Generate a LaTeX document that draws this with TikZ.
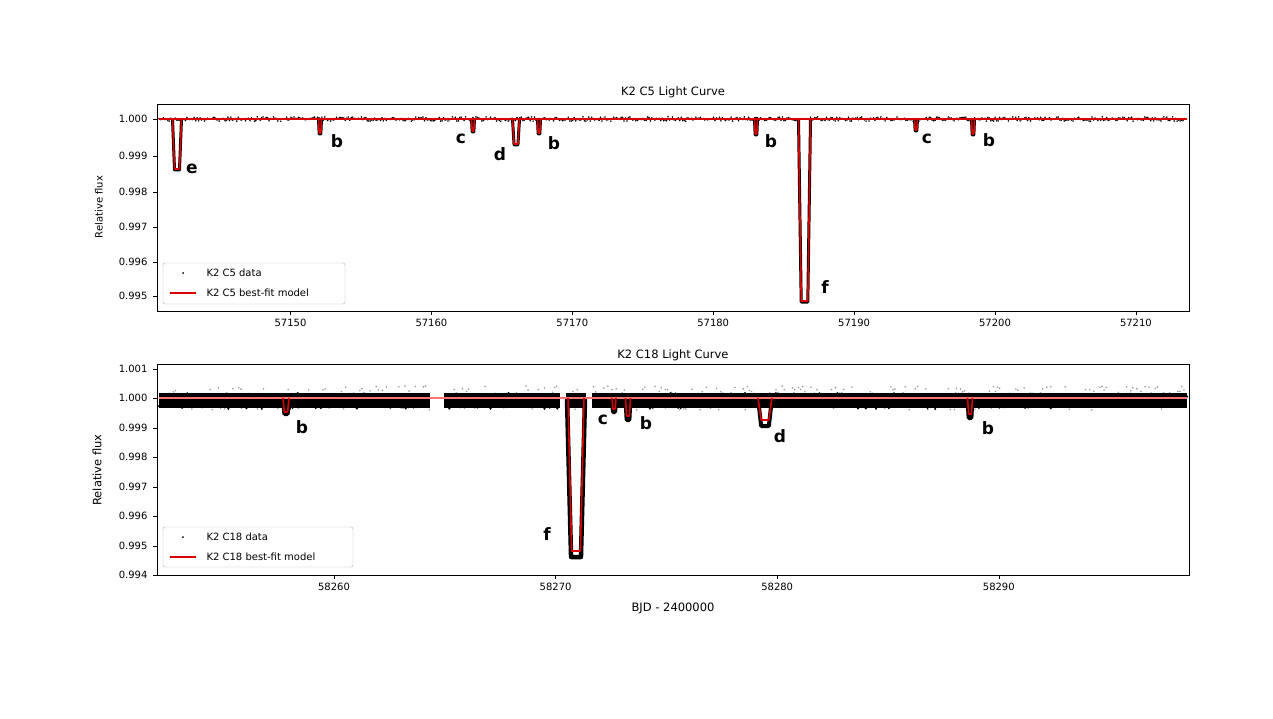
\documentclass[tikz,border=0pt]{standalone}
\usepackage{fontspec}
\setmainfont{DejaVu Sans}
\begin{document}
\begin{tikzpicture}[x=1pt,y=-1pt,
  model/.style={red!85!black,line width=1.6pt,line join=round},
  modelb/.style={red!55!white,line width=1.6pt,line join=round},
  dat/.style={black,line width=3pt,line join=round},
  tick/.style={font=\fontsize{10}{12}\selectfont},
  lab/.style={font=\fontsize{17}{20}\selectfont\bfseries},
  ttl/.style={font=\fontsize{11.5}{14}\selectfont}]
\useasboundingbox (0,0) rectangle (1273,719);
\fill[white] (0,0) rectangle (1273,719);
\newcommand\dipT[4]{\draw[#4] ({#1-#2},119) -- ({#1-#2*0.55},{#3}) -- ({#1+#2*0.55},{#3}) -- ({#1+#2},119);}
\newcommand\dipB[4]{\draw[#4] ({#1-#2},398) -- ({#1-#2*0.55},{#3}) -- ({#1+#2*0.55},{#3}) -- ({#1+#2},398);}
% ---------- top panel ----------
\pgfmathsetseed{7}
\foreach \i in {0,...,700}{\pgfmathsetmacro\xx{159+\i*1.467}\pgfmathsetmacro\yy{119+rand*2.2}\fill (\xx,\yy) circle (0.9);}
\draw[black,line width=2pt] (159,119) -- (1187,119);
\fill[white] (799,116) rectangle (810,123);
\foreach \x/\w/\d in {177/4.5/170,320/1.5/134,473/1.5/132,516/3.5/145,539/1.5/134,756/1.5/135,916/1.5/131,973/1.5/135}{\dipT{\x}{\w}{\d}{dat}}
\dipT{804.5}{6}{302}{dat}
\draw[model] (159,119) -- (1187,119);
\foreach \x/\w/\d in {177/4.5/169,320/1.5/133,473/1.5/131,516/3.5/144,539/1.5/133,756/1.5/134,916/1.5/130,973/1.5/134}{\dipT{\x}{\w}{\d}{model}}
\dipT{804.5}{6}{301}{model}
\draw[line width=0.7pt] (157,104) rectangle (1189,311);
\foreach \v/\y in {1.000/119,0.999/156,0.998/192,0.997/227,0.996/262,0.995/296}{\draw (157,\y) -- (153,\y); \node[tick,anchor=east] at (151,\y) {\v};}
\foreach \i in {0,...,6}{\pgfmathsetmacro\xx{290.5+\i*140.9}\pgfmathtruncatemacro\lbl{5715+\i}\draw (\xx,311) -- (\xx,315); \node[tick,anchor=north] at (\xx,316) {\lbl0};}
\node[ttl] (t1) at (673,92) {K2 C5 Light Curve};
\node[tick,rotate=90] (y1) at (99,207) {Relative flux};
\foreach \t/\x/\y in {e/192/169,b/337/141,c/461/139,d/500/154,b/554/143,b/771/141,f/825/287,c/927/139,b/989/140}{\node[lab] at (\x,\y) {\t};}
\draw[gray!60,rounded corners=2pt] (163,263) rectangle (345,304);
\fill (183,273) circle (1);
\draw[model] (170,293) -- (196,293);
\node[tick,anchor=west] (l1) at (203,273) {K2 C5 data};
\node[tick,anchor=west] (l2) at (203,293) {K2 C5 best-fit model};
% ---------- bottom panel ----------
\pgfmathsetseed{11}
\foreach \i in {0,...,500}{\pgfmathsetmacro\xx{159+\i*2.05}\pgfmathsetmacro\yy{398+rand*12}\fill[black!40] (\xx,\yy) circle (0.9);}
\fill[black] (159,393) rectangle (1187,408);
\foreach \i in {0,...,400}{\pgfmathsetmacro\xx{159+\i*2.57}\pgfmathsetmacro\yy{401+rand*8}\fill (\xx,\yy) circle (1.2);}
\fill[white] (430,385) rectangle (444,415);
\fill[white] (560,385) rectangle (566,415);\fill[white] (586,385) rectangle (592,415);
\foreach \x/\w/\d in {286/3/414,614/2/412,628/2.5/420,765/7/426,970/2.5/418}{\dipB{\x}{\w}{\d}{dat,line width=4pt}}
\dipB{576}{9}{557}{dat,line width=4.5pt}
\draw[modelb] (159,398) -- (1187,398);
\foreach \x/\w/\d in {286/3/412,614/2/409,628/2.5/416,765/7/420,970/2.5/414}{\dipB{\x}{\w}{\d}{model}}
\dipB{576}{8}{551}{model}
\draw[line width=0.7pt] (157,364) rectangle (1189,575);
\foreach \v/\y in {1.001/369,1.000/398,0.999/428,0.998/457,0.997/487,0.996/516,0.995/546,0.994/575}{\draw (157,\y) -- (153,\y); \node[tick,anchor=east] at (151,\y) {\v};}
\foreach \i in {0,...,3}{\pgfmathsetmacro\xx{334+\i*221.6}\pgfmathtruncatemacro\lbl{5826+\i}\draw (\xx,575) -- (\xx,579); \node[tick,anchor=north] at (\xx,580) {\lbl0};}
\node[ttl] (t2) at (673,355) {K2 C18 Light Curve};
\node[ttl,rotate=90] (y2) at (97,470) {Relative flux};
\node[ttl] (xl) at (673,608) {BJD - 2400000};
\foreach \t/\x/\y in {b/302/427,c/603/420,b/646/423,d/780/436,b/988/428,f/547/534}{\node[lab] at (\x,\y) {\t};}
\draw[gray!60,rounded corners=2pt] (163,527) rectangle (353,567);
\fill (183,537) circle (1);
\draw[model] (170,557) -- (196,557);
\node[tick,anchor=west] (l3) at (203,537) {K2 C18 data};
\node[tick,anchor=west] (l4) at (203,557) {K2 C18 best-fit model};
\end{tikzpicture}
\end{document}
